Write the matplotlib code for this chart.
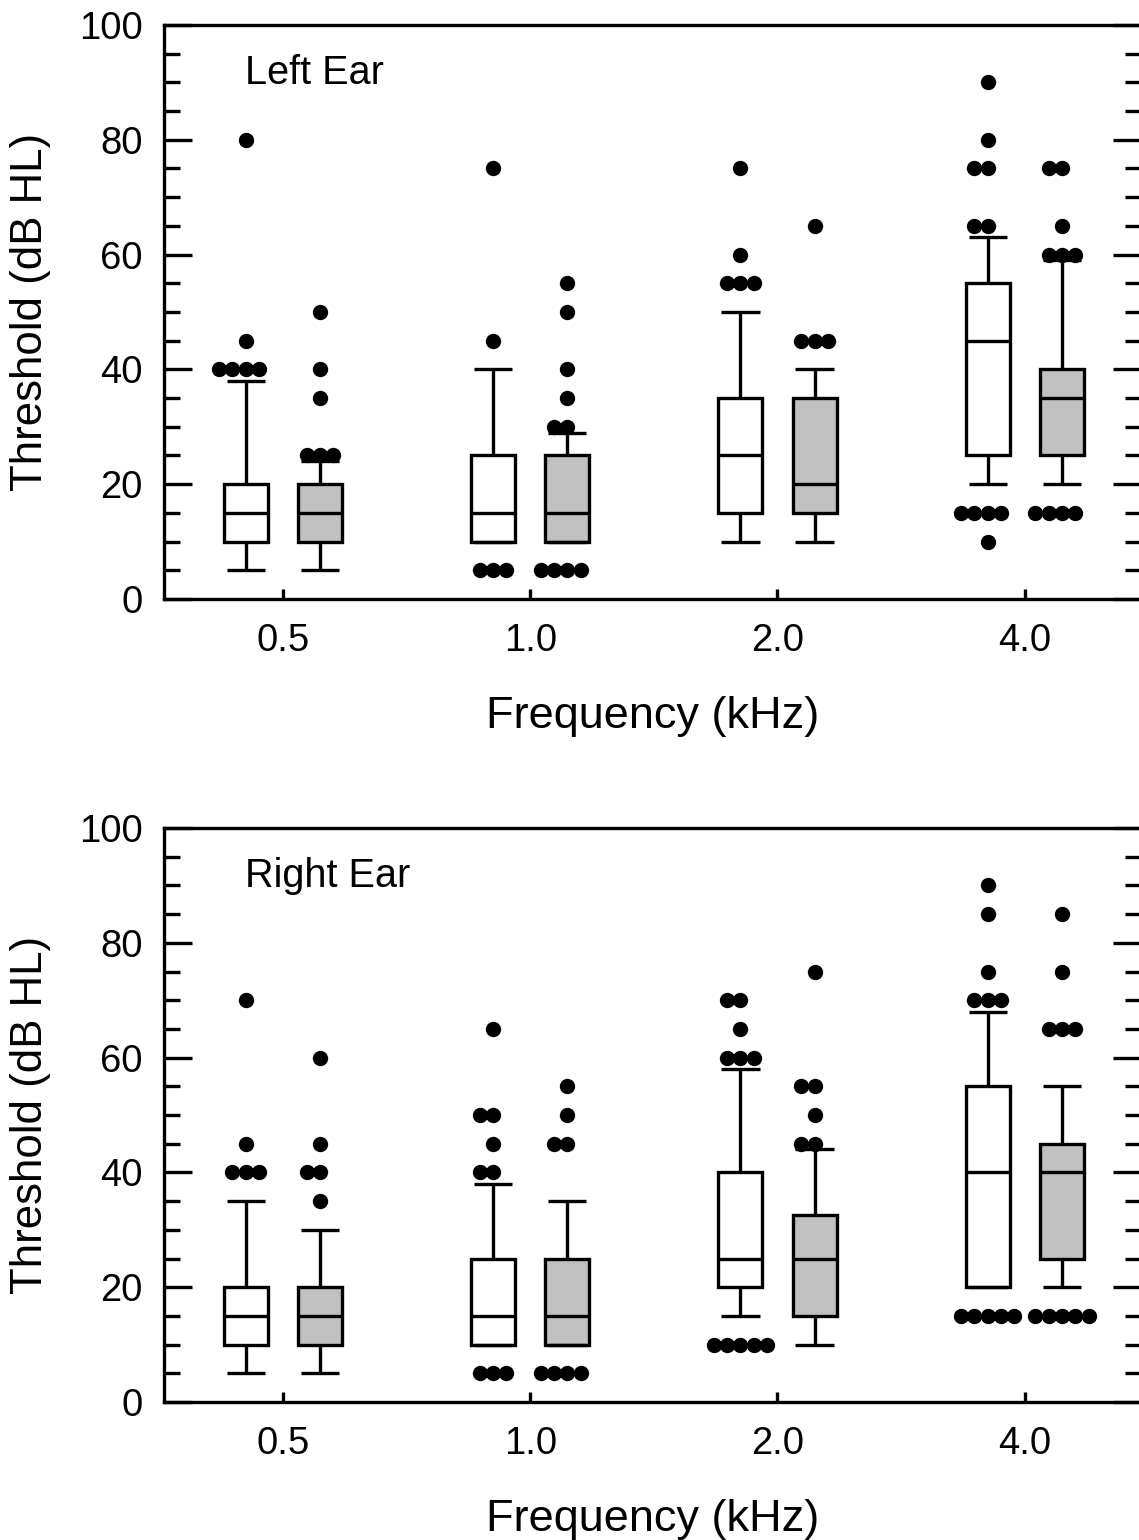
import matplotlib
matplotlib.use('Agg')
import matplotlib.pyplot as plt
from matplotlib.ticker import MultipleLocator
from collections import Counter
import numpy as np

plt.rcParams['font.family'] = ['Liberation Sans', 'DejaVu Sans']

# ---------------- data ----------------
freq_labels = ['0.5', '1.0', '2.0', '4.0']

# Left ear, white boxes (group 1)
left_w_q1 = [10, 10, 15, 25]
left_w_med = [15, 15, 25, 45]
left_w_q3 = [20, 25, 35, 55]
left_w_lo = [5, 10, 10, 20]
left_w_hi = [38, 40, 50, 63]
left_w_out = [[40, 40, 40, 40, 45, 80],
              [5, 5, 5, 45, 75],
              [55, 55, 55, 60, 75],
              [10, 15, 15, 15, 15, 65, 65, 75, 75, 80, 90]]

# Left ear, gray boxes (group 2)
left_g_q1 = [10, 10, 15, 25]
left_g_med = [15, 15, 20, 35]
left_g_q3 = [20, 25, 35, 40]
left_g_lo = [5, 10, 10, 20]
left_g_hi = [24, 29, 40, 59]
left_g_out = [[25, 25, 25, 35, 40, 50],
              [5, 5, 5, 5, 30, 30, 35, 40, 50, 55],
              [45, 45, 45, 65],
              [15, 15, 15, 15, 60, 60, 60, 65, 75, 75]]

# Right ear, white boxes (group 1)
right_w_q1 = [10, 10, 20, 20]
right_w_med = [15, 15, 25, 40]
right_w_q3 = [20, 25, 40, 55]
right_w_lo = [5, 10, 15, 20]
right_w_hi = [35, 38, 58, 68]
right_w_out = [[40, 40, 40, 45, 70],
               [5, 5, 5, 40, 40, 45, 50, 50, 65],
               [10, 10, 10, 10, 10, 60, 60, 60, 65, 70, 70],
               [15, 15, 15, 15, 15, 70, 70, 70, 75, 85, 90]]

# Right ear, gray boxes (group 2)
right_g_q1 = [10, 10, 15, 25]
right_g_med = [15, 15, 25, 40]
right_g_q3 = [20, 25, 32.5, 45]
right_g_lo = [5, 10, 10, 20]
right_g_hi = [30, 35, 44, 55]
right_g_out = [[35, 40, 40, 45, 60],
               [5, 5, 5, 5, 45, 45, 50, 55],
               [45, 45, 50, 55, 55, 75],
               [15, 15, 15, 15, 15, 65, 65, 65, 75, 85]]

panel_titles = ['Left Ear', 'Right Ear']

# ---------------- styling ----------------
W, H = 1139, 1540
LW = 2.4
BOX_W = 0.178
CAP_W = 0.155
OFFSET = 0.15
DOT_DX = 0.054
GRAY = '#c0c0c0'


def make_stats(q1, med, q3, lo, hi):
    return [dict(q1=a, med=b, q3=c, whislo=d, whishi=e, fliers=[])
            for a, b, c, d, e in zip(q1, med, q3, lo, hi)]


def draw_fliers(ax, positions, outliers):
    for pos, vals in zip(positions, outliers):
        cnt = Counter(vals)
        xs, ys = [], []
        for v, n in cnt.items():
            for k in range(n):
                xs.append(pos + (k - n // 2) * DOT_DX)
                ys.append(v)
        ax.scatter(xs, ys, s=122, color='black', zorder=5, linewidths=0)


def draw_panel(ax, title, w_stats, g_stats, w_out, g_out):
    x = np.arange(len(freq_labels))
    common = dict(widths=BOX_W, capwidths=CAP_W, patch_artist=True,
                  showfliers=False, manage_ticks=False,
                  whiskerprops=dict(color='black', linewidth=LW, solid_capstyle='butt'),
                  capprops=dict(color='black', linewidth=LW, solid_capstyle='butt'),
                  medianprops=dict(color='black', linewidth=LW, solid_capstyle='butt'))
    ax.bxp(w_stats, positions=x - OFFSET,
           boxprops=dict(facecolor='white', edgecolor='black', linewidth=LW), **common)
    ax.bxp(g_stats, positions=x + OFFSET,
           boxprops=dict(facecolor=GRAY, edgecolor='black', linewidth=LW), **common)
    draw_fliers(ax, x - OFFSET, w_out)
    draw_fliers(ax, x + OFFSET, g_out)

    ax.set_xlim(-0.483, 3.47)
    ax.set_ylim(0, 100)
    ax.set_xticks(x)
    ax.set_xticklabels(freq_labels)
    ax.yaxis.set_major_locator(MultipleLocator(20))
    ax.yaxis.set_minor_locator(MultipleLocator(5))
    ax.tick_params(axis='y', which='major', direction='in', length=20, width=LW,
                   left=True, right=True, labelsize=27.5, pad=15)
    ax.tick_params(axis='y', which='minor', direction='in', length=11.5, width=LW,
                   left=True, right=True)
    ax.tick_params(axis='x', which='major', direction='in', length=7, width=LW,
                   top=False, labelsize=27.5, pad=17)
    ax.tick_params(axis='x', which='minor', bottom=False, top=False)
    for s in ax.spines.values():
        s.set_linewidth(LW)
    ax.set_xlabel('Frequency (kHz)', fontsize=32.5)
    ax.xaxis.set_label_coords(0.5, -0.169)
    ax.set_ylabel('Threshold (dB HL)', fontsize=31.5)
    ax.yaxis.set_label_coords(-0.115, 0.5)
    ax.text(0.0834, 0.897, title, transform=ax.transAxes, fontsize=28.5,
            ha='left', va='baseline')


fig = plt.figure(figsize=(W / 100, H / 100), dpi=100)
left = 163.5 / W
width = (1141 - 163.5) / W
ax_top = fig.add_axes([left, 1 - 599 / H, width, 574 / H])
ax_bot = fig.add_axes([left, 1 - 1402 / H, width, 574 / H])

draw_panel(ax_top, panel_titles[0],
           make_stats(left_w_q1, left_w_med, left_w_q3, left_w_lo, left_w_hi),
           make_stats(left_g_q1, left_g_med, left_g_q3, left_g_lo, left_g_hi),
           left_w_out, left_g_out)
draw_panel(ax_bot, panel_titles[1],
           make_stats(right_w_q1, right_w_med, right_w_q3, right_w_lo, right_w_hi),
           make_stats(right_g_q1, right_g_med, right_g_q3, right_g_lo, right_g_hi),
           right_w_out, right_g_out)

fig.savefig('out.png', dpi=100)
